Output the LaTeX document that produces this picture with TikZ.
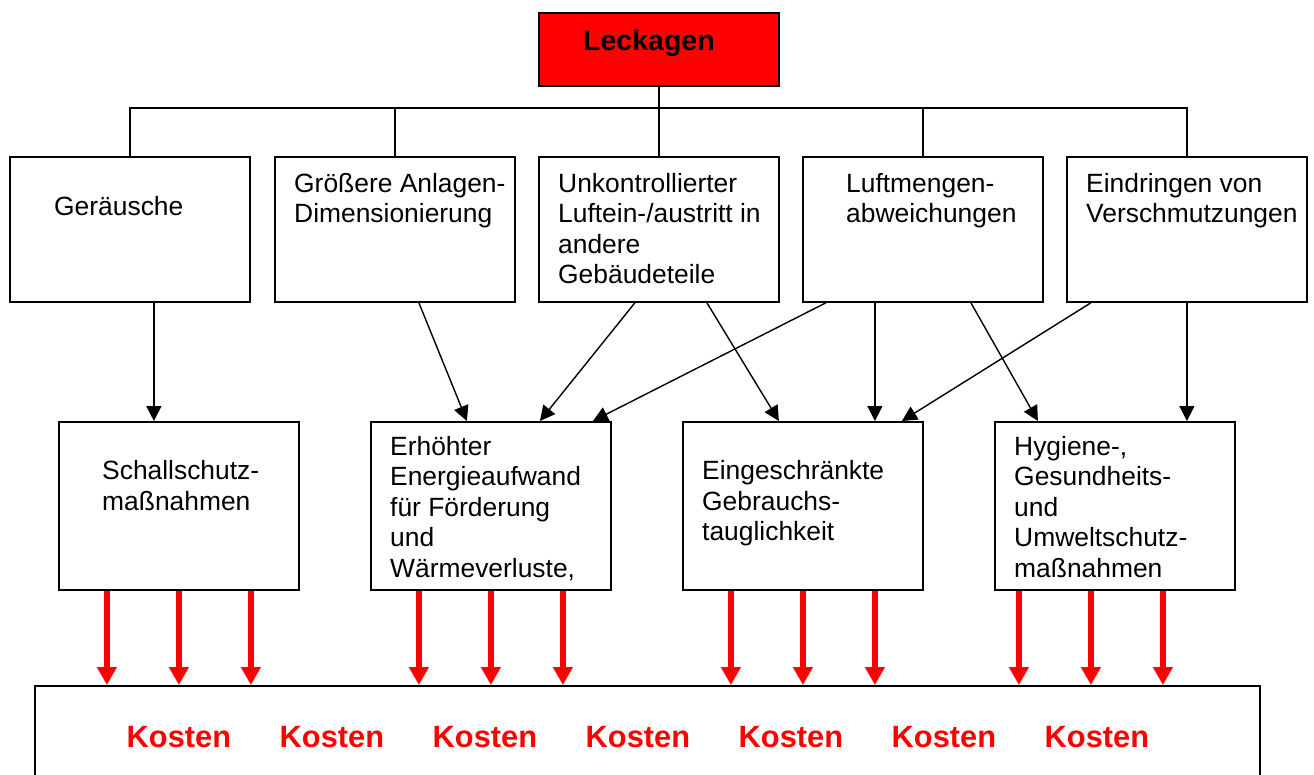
\documentclass[tikz,border=0pt]{standalone}
\usepackage{fontspec}
\setmainfont{Liberation Sans}
\usetikzlibrary{arrows.meta,calc}
\newcommand{\mlines}[1]{\begin{tabular}[t]{@{}l@{}}#1\end{tabular}}
\begin{document}
\begin{tikzpicture}[x=1pt,y=-1pt,
  box/.style={draw,line width=1.8pt,minimum width=240pt,inner sep=0pt,anchor=north west},
  topbox/.style={box,minimum height=145pt},
  midbox/.style={box,minimum height=168pt},
  txt/.style={anchor=base west,inner sep=0pt,font=\fontsize{26.4}{30.5}\selectfont},
  conn/.style={line width=1.4pt},
  arr/.style={conn,-{Triangle[length=15pt,width=15pt]}},
  redarr/.style={red,line width=6pt,-{Triangle[length=18pt,width=19pt]}},
  kosten/.style={anchor=base west,inner sep=0pt,text=red,font=\fontsize{30.8}{36}\selectfont\bfseries}]
\useasboundingbox (0,0) rectangle (1314,774);
\clip (0,0) rectangle (1314,774);
% top node
\node[box,fill=red,minimum width=240pt,minimum height=73pt] (leck) at (538,12) {};
\node[anchor=base west,inner sep=0pt,font=\fontsize{28.5}{33}\selectfont\bfseries] (leckt) at (583,50) {Leckagen};
% top row
\node[topbox] (ger) at (9,156) {};
\node[topbox] (gro) at (274,156) {};
\node[topbox] (unk) at (538,156) {};
\node[topbox] (luf) at (802,156) {};
\node[topbox] (ein) at (1066,156) {};
\node[txt] (gert) at (54,215) {Geräusche};
\node[txt] (grot) at (294,192) {\mlines{Größere Anlagen-\\Dimensionierung}};
\node[txt] (unkt) at (558,192) {\mlines{Unkontrollierter\\Luftein-/austritt in\\andere\\Gebäudeteile}};
\node[txt] (luft) at (846,192) {\mlines{Luftmengen-\\abweichungen}};
\node[txt] (eint) at (1086,192) {\mlines{Eindringen von\\Verschmutzungen}};
% middle row
\node[midbox] (sch) at (58,421) {};
\node[midbox] (erh) at (370,421) {};
\node[midbox] (eing) at (682,421) {};
\node[midbox] (hyg) at (994,421) {};
\node[txt] (scht) at (102,479.5) {\mlines{Schallschutz-\\maßnahmen}};
\node[txt] (erht) at (390,455) {\mlines{Erhöhter\\Energieaufwand\\für Förderung\\und\\Wärmeverluste,}};
\node[txt] (eingt) at (702,479.5) {\mlines{Eingeschränkte\\Gebrauchs-\\tauglichkeit}};
\node[txt] (hygt) at (1014,455) {\mlines{Hygiene-,\\Gesundheits-\\und\\Umweltschutz-\\maßnahmen}};
% bottom box
\node[box,minimum width=1225pt,minimum height=130pt] (kost) at (34,685) {};
\foreach \i in {0,...,6}
  \node[kosten] (k\i) at (126.5+153*\i,747) {Kosten};
% tree lines
\coordinate (hub) at (658,108);
\draw[conn] (leck.south) -- (leck.south |- hub);
\draw[conn] (ger.north) -- (ger.north |- hub) -- (ein.north |- hub) -- (ein.north);
\draw[conn] (gro.north) -- (gro.north |- hub);
\draw[conn] (unk.north) -- (unk.north |- hub);
\draw[conn] (luf.north) -- (luf.north |- hub);
% black arrows
\coordinate (g1) at ($(ger.south)+(24,0)$);
\draw[arr] (g1) -- (g1 |- sch.north);
\draw[arr] ($(gro.south)+(24,0)$) -- ($(erh.north)+(-24,0)$);
\draw[arr] ($(unk.south)+(-24,0)$) -- ($(erh.north)+(49,0)$);
\draw[arr] ($(luf.south)+(-97,0)$) -- ($(erh.north)+(102,0)$);
\draw[arr] ($(unk.south)+(48,0)$) -- ($(eing.north)+(-24,0)$);
\coordinate (l1) at ($(luf.south)+(-48,0)$);
\draw[arr] (l1) -- (l1 |- eing.north);
\draw[arr] ($(ein.south)+(-96,0)$) -- ($(eing.north)+(99,0)$);
\draw[arr] ($(luf.south)+(48,0)$) -- ($(hyg.north)+(-77,0)$);
\draw[arr] (ein.south) -- (ein.south |- hyg.north);
% red arrows
\foreach \b/\o in {sch/-72,sch/0,sch/72,erh/-72,erh/0,erh/72,eing/-72,eing/0,eing/72,hyg/-96,hyg/-24,hyg/48}{
  \coordinate (r) at ($(\b.south)+(\o,0)$);
  \draw[redarr] (r) -- (r |- kost.north);
}
\end{tikzpicture}
\end{document}
